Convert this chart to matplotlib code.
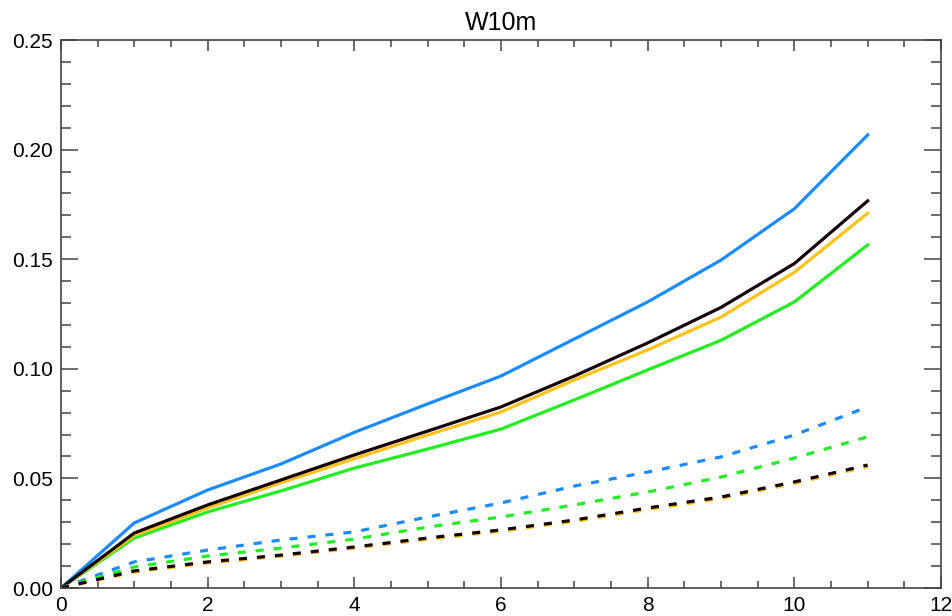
import matplotlib
matplotlib.use("Agg")
import matplotlib.pyplot as plt

# données
x = [0, 1, 2, 3, 4, 5, 6, 7, 8, 9, 10, 11]

bleu = [0.0, 0.0297, 0.0447, 0.0566, 0.071, 0.084, 0.0967, 0.1136, 0.1305, 0.1496, 0.173, 0.2067]
noir = [0.0, 0.0251, 0.0379, 0.0493, 0.0607, 0.0716, 0.0826, 0.0967, 0.1118, 0.128, 0.148, 0.1766]
orange = [0.0, 0.0240, 0.0365, 0.048, 0.059, 0.0698, 0.0803, 0.0949, 0.1086, 0.1236, 0.144, 0.171]
vert = [0.0, 0.0228, 0.0347, 0.0443, 0.0547, 0.0634, 0.0725, 0.0858, 0.0995, 0.113, 0.1305, 0.1565]

bleu_tirets = [0.0, 0.0119, 0.0173, 0.0219, 0.0256, 0.0324, 0.0388, 0.0465, 0.0529, 0.0598, 0.0698, 0.0826]
vert_tirets = [0.0, 0.0096, 0.0146, 0.0182, 0.0223, 0.0278, 0.0324, 0.0379, 0.0438, 0.0506, 0.0593, 0.069]
noir_tirets = [0.0, 0.0078, 0.0119, 0.015, 0.0187, 0.0228, 0.0265, 0.031, 0.0365, 0.0415, 0.0484, 0.0561]
orange_tirets = [0.0, 0.0073, 0.0114, 0.0145, 0.0182, 0.0222, 0.0259, 0.0304, 0.0358, 0.0408, 0.0477, 0.0554]

couleurs = {"bleu": "#1a8cff", "vert": "#22ee22", "orange": "#ffc21a", "noir": "#140008"}

plt.rcParams["font.family"] = ["Liberation Sans", "DejaVu Sans"]
plt.rcParams["lines.scale_dashes"] = False

fig = plt.figure(figsize=(9.53, 6.16), dpi=100)
ax = fig.add_axes([61 / 953, 28 / 616, 880 / 953, 548 / 616])

lw = 2.3
tirets = (5.8, 7.2)
ax.plot(x, bleu, color=couleurs["bleu"], lw=lw)
ax.plot(x, vert, color=couleurs["vert"], lw=lw)
ax.plot(x, orange, color=couleurs["orange"], lw=lw)
ax.plot(x, noir, color=couleurs["noir"], lw=lw)
ax.plot(x, bleu_tirets, color=couleurs["bleu"], lw=lw, dashes=tirets)
ax.plot(x, vert_tirets, color=couleurs["vert"], lw=lw, dashes=tirets)
ax.plot(x, orange_tirets, color=couleurs["orange"], lw=lw, dashes=tirets)
ax.plot(x, noir_tirets, color=couleurs["noir"], lw=lw, dashes=tirets)

ax.set_xlim(0, 12)
ax.set_ylim(0, 0.25)
ax.set_xticks([0, 2, 4, 6, 8, 10, 12])
ax.set_xticks([i * 0.5 for i in range(25)], minor=True)
ax.set_yticks([0.0, 0.05, 0.10, 0.15, 0.20, 0.25])
ax.set_yticklabels(["0.00", "0.05", "0.10", "0.15", "0.20", "0.25"])
ax.set_yticks([i * 0.01 for i in range(26)], minor=True)

for s in ax.spines.values():
    s.set_color("#444444")
    s.set_linewidth(1.2)

ax.tick_params(axis="both", which="both", direction="in", top=True, right=True,
               color="#444444", width=1.1, labelsize=15, labelcolor="black")
ax.tick_params(axis="y", which="major", length=12, pad=6)
ax.tick_params(axis="y", which="minor", length=7)
ax.tick_params(axis="x", which="major", length=8, pad=5.5)
ax.tick_params(axis="x", which="minor", length=5)

ax.set_title("W10m", fontsize=18, pad=7)

fig.savefig("out.png", dpi=100)
